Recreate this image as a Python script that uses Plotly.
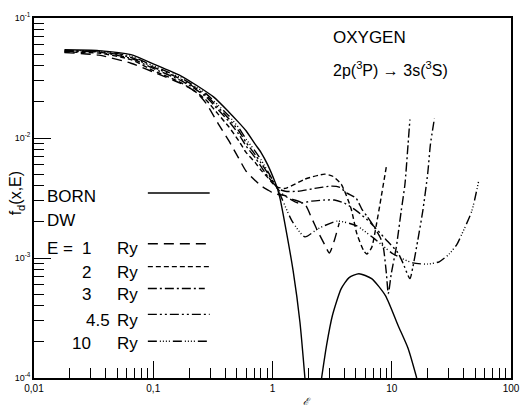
import plotly.graph_objects as go

# ---------------- data ----------------
born_x = [0.018, 0.035, 0.065, 0.10, 0.17, 0.23, 0.32, 0.43, 0.52, 0.60, 0.72, 0.80, 0.91,
          1.06, 1.10, 1.16, 1.23, 1.49, 1.70, 1.87, None,
          2.58, 2.84, 3.18, 3.77, 4.39, 5.30, 6.78, 8.85, 11.3, 13.7, 16.2]
born_y = [0.0543, 0.0535, 0.0495, 0.0415, 0.0330, 0.0275, 0.0220, 0.0165, 0.0135, 0.0115, 0.0088,
          0.0076, 0.0060, 0.0042, 0.0038, 0.0031, 0.0023, 7.8e-4, 2.9e-4, 1.0e-4, None,
          1.0e-4, 1.87e-4, 3.32e-4, 5.56e-4, 6.86e-4, 7.4e-4, 6.73e-4, 4.86e-4, 2.74e-4, 1.77e-4, 1.0e-4]

pre_x = [0.018, 0.035, 0.065, 0.10, 0.17, 0.23, 0.28, 0.35, 0.43, 0.52, 0.60, 0.72, 0.80, 0.91, 1.0, 1.10]

e1_x = pre_x + [1.28, 1.46, 1.87, 2.13, 2.39, 2.73, 3.0, 3.3, 3.63]
e1_y = [0.0515, 0.049, 0.042, 0.0355, 0.0285, 0.0240, 0.0192, 0.0132, 0.0095, 0.0068, 0.0053,
        0.0044, 0.0040, 0.0037, 0.0035, 0.0034,
        0.0033, 0.0031, 0.0028, 0.00215, 0.00168, 0.0013, 0.0011, 0.0014, 0.00196]

e2_x = pre_x + [1.28, 1.87, 2.73, 3.2, 3.77, 4.55, 5.1, 5.82, 6.17, 6.78, 7.45, 9.02]
e2_y = [0.052, 0.051, 0.045, 0.0365, 0.0290, 0.0240, 0.0205, 0.0158, 0.0124, 0.0095, 0.0076,
        0.0062, 0.0054, 0.0047, 0.0042, 0.0039,
        0.0038, 0.00454, 0.0050, 0.0048, 0.00412, 0.0026, 0.00159, 0.00115, 0.00108, 0.00122,
        0.00192, 0.00582]

e3_x = pre_x + [1.28, 1.64, 2.26, 3.12, 3.63, 4.22, 5.01, 5.61, 6.17, 7.04, 8.04, 8.51, 9.02,
                9.36, 9.91, 10.9, 12.0, 12.9, 13.7, 14.2]
e3_y = [0.0525, 0.052, 0.046, 0.038, 0.0302, 0.0252, 0.0218, 0.0172, 0.0138, 0.0108, 0.0086,
        0.0068, 0.0058, 0.0048, 0.0043, 0.0038,
        0.0036, 0.0036, 0.0038, 0.00397, 0.0039, 0.00347, 0.00316, 0.00256, 0.00224, 0.00185,
        0.00147, 0.00122, 7.4e-4, 5.05e-4, 7.4e-4, 0.00122, 0.00246, 0.00412, 0.00885, 0.01426]

e45_x = pre_x + [1.21, 1.64, 2.13, 2.73, 3.3, 4.0, 5.1, 6.65, 8.85, 11.3, 12.4, 14.2, 15.0,
                 16.5, 18.2, 20.0, 21.1, 22.8]
e45_y = [0.053, 0.0525, 0.047, 0.039, 0.0310, 0.0258, 0.0225, 0.0180, 0.0145, 0.0115, 0.0092,
         0.0072, 0.0062, 0.0051, 0.0044, 0.0038,
         0.00341, 0.00287, 0.00298, 0.00304, 0.00304, 0.00287, 0.00246, 0.00196, 0.00144,
         0.0011, 9.1e-4, 6.73e-4, 8.3e-4, 0.00139, 0.00246, 0.0050, 0.00885, 0.01456]

e10_x = pre_x + [1.46, 1.87, 2.40, 3.5, 5.1, 7.0, 10.3, 15.0, 20.0, 25.0, 30.3, 35.2, 38.7,
                 46.9, 53.5]
e10_y = [0.0535, 0.053, 0.048, 0.040, 0.0318, 0.0265, 0.0232, 0.0188, 0.0153, 0.0122, 0.0098,
         0.0077, 0.0066, 0.0053, 0.0045, 0.0038,
         0.00203, 0.0015, 0.00175, 0.00203, 0.00185, 0.00147, 0.00108, 9.1e-4, 8.9e-4,
         9.3e-4, 0.00108, 0.0013, 0.00158, 0.00246, 0.00436]

x_tickvals = [0.01, 0.1, 1, 10, 100]
x_ticktext = ["0,01", "0,1", "1", "10", "100"]
y_tickvals = [1e-4, 1e-3, 1e-2, 1e-1]
y_ticktext = ["10<sup>-4</sup>", "10<sup>-3</sup>", "10<sup>-2</sup>", "10<sup>-1</sup>"]

legend_labels = ["1", "2", "3", "4.5", "10"]

# ---------------- styles ----------------
dashes = {
    "born": "solid",
    "1": "10px,6px",
    "2": "5px,3px",
    "3": "9px,3px,2px,3px",
    "4.5": "9px,3px,2px,3px,2px,3px",
    "10": "9px,3px,1px,2px,1px,2px,1px,2px,1px,3px",
}

series = [
    ("born", born_x, born_y),
    ("1", e1_x, e1_y),
    ("2", e2_x, e2_y),
    ("3", e3_x, e3_y),
    ("4.5", e45_x, e45_y),
    ("10", e10_x, e10_y),
]

fig = go.Figure()
for key, xs, ys in series:
    fig.add_trace(go.Scatter(
        x=xs, y=ys, mode="lines",
        line=dict(color="black", width=1.4, dash=dashes[key], shape="spline", smoothing=0.6),
        showlegend=False, hoverinfo="skip",
    ))

minor_x = [m * 10 ** e for e in range(-2, 2) for m in range(2, 10)]
minor_y = [m * 10 ** e for e in range(-4, -1) for m in range(2, 10)]

font_main = "Liberation Sans, Arial, sans-serif"

fig.update_layout(
    width=531, height=409,
    margin=dict(l=34, r=11, t=16, b=31),
    paper_bgcolor="white", plot_bgcolor="white",
    font=dict(family=font_main, color="black"),
    xaxis=dict(
        type="log", range=[-2, 2],
        showline=True, linecolor="black", linewidth=1.8, mirror=True,
        showgrid=False, zeroline=False,
        ticks="inside", ticklen=17, tickwidth=1.3, tickcolor="black",
        tickmode="array", tickvals=x_tickvals, ticktext=x_ticktext,
        tickfont=dict(size=10, family=font_main),
        minor=dict(ticks="inside", ticklen=10, tickwidth=1.3, tickcolor="black",
                   tickmode="array", tickvals=minor_x, showgrid=False),
    ),
    yaxis=dict(
        type="log", range=[-4, -1],
        showline=True, linecolor="black", linewidth=1.8, mirror=True,
        showgrid=False, zeroline=False,
        ticks="inside", ticklen=17, tickwidth=1.3, tickcolor="black",
        tickmode="array", tickvals=y_tickvals, ticktext=y_ticktext,
        tickfont=dict(size=9, family=font_main),
        minor=dict(ticks="inside", ticklen=10, tickwidth=1.3, tickcolor="black",
                   tickmode="array", tickvals=minor_y, showgrid=False),
    ),
)

# ---------------- text ----------------
W, H = 486.0, 362.0


def px(xp):
    return (xp - 34) / W


def py(yp):
    return (378 - yp) / H


ann = []
ann.append(dict(text="OXYGEN", x=px(337), y=py(36), xanchor="left", yanchor="middle",
                font=dict(size=17)))
ann.append(dict(text="2p(<sup>3</sup>P) → 3s(<sup>3</sup>S)", x=px(337), y=py(67),
                xanchor="left", yanchor="middle", font=dict(size=16)))
ann.append(dict(text="BORN", x=px(45), y=py(195), xanchor="left", yanchor="middle",
                font=dict(size=17)))
ann.append(dict(text="DW", x=px(45), y=py(220), xanchor="left", yanchor="middle",
                font=dict(size=17)))
ann.append(dict(text="E =", x=px(45), y=py(248), xanchor="left", yanchor="middle",
                font=dict(size=17)))

row_y = [248, 272, 294, 320, 343]
num_right = [94, 94, 94, 113, 94]
line_y = [243, 266, 288, 314, 341]
line_x1 = [213, 213, 208, 213, 213]
for lab, ry, nr in zip(legend_labels, row_y, num_right):
    ann.append(dict(text=lab, x=px(nr), y=py(ry), xanchor="right", yanchor="middle",
                    font=dict(size=17)))
    ann.append(dict(text="Ry", x=px(117), y=py(ry), xanchor="left", yanchor="middle",
                    font=dict(size=17)))

ann.append(dict(text="f<sub>d</sub>(x,E)", x=px(16), y=py(192), textangle=-90,
                xanchor="center", yanchor="middle", font=dict(size=16)))
ann.append(dict(text="<i>ℰ</i>", x=px(312), y=py(402), xanchor="center", yanchor="middle",
                font=dict(size=10)))

for a in ann:
    a.update(xref="paper", yref="paper", showarrow=False)
fig.update_layout(annotations=ann)

# legend sample lines (decorations in paper coordinates)
shapes = [dict(type="line", xref="paper", yref="paper", x0=px(150), x1=px(213),
               y0=py(192), y1=py(192), line=dict(color="black", width=1.4, dash="solid"))]
for lab, ly, lx1 in zip(legend_labels, line_y, line_x1):
    shapes.append(dict(type="line", xref="paper", yref="paper", x0=px(150), x1=px(lx1),
                       y0=py(ly), y1=py(ly),
                       line=dict(color="black", width=1.4, dash=dashes[lab])))
fig.update_layout(shapes=shapes)

fig.write_html("out.html")
